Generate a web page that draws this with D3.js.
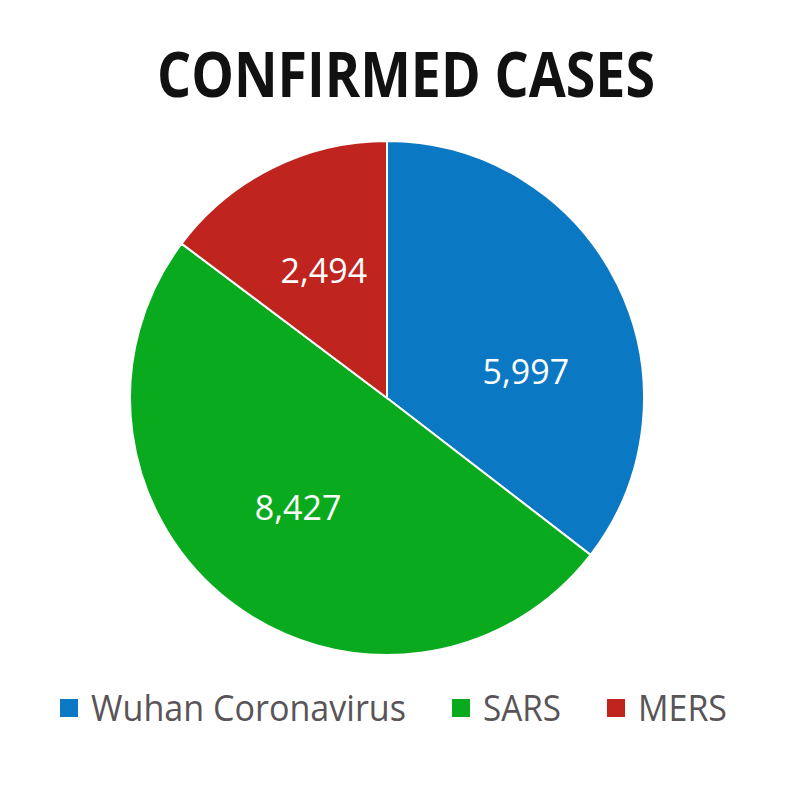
<!DOCTYPE html>
<html>
<head>
<meta charset="utf-8">
<script src="https://cdn.jsdelivr.net/npm/d3@7"></script>
<style>
  body { margin: 0; background: #fff; }
  text { font-family: "Open Sans", sans-serif; }
</style>
</head>
<body>
<div id="chart"></div>
<script>
// data
var categories = ["Wuhan Coronavirus", "SARS", "MERS"];
var cases = [5997, 8427, 2494];
var colors = ["#0a78c2", "#0aaa1e", "#c0241f"];

var width = 800, height = 800;
var cx = 387, cy = 398, radius = 257;

var svg = d3.select("#chart")
  .append("svg")
    .attr("width", width)
    .attr("height", height);

// title
svg.append("text")
  .attr("x", 406)
  .attr("y", 97)
  .attr("text-anchor", "middle")
  .attr("textLength", 498)
  .attr("lengthAdjust", "spacingAndGlyphs")
  .style("font-size", "62px")
  .style("font-weight", "bold")
  .style("fill", "#111")
  .text("CONFIRMED CASES");

var data = categories.map(function(c, i) { return {name: c, value: cases[i], color: colors[i]}; });

var pie = d3.pie()
  .sort(null)
  .value(function(d) { return d.value; });

var arc = d3.arc().innerRadius(0).outerRadius(radius);
var labelArc = d3.arc().innerRadius(0).outerRadius(radius * 1.1);

var g = svg.append("g")
  .attr("transform", "translate(" + cx + "," + cy + ")");

var arcs = pie(data);

g.selectAll("path")
  .data(arcs)
  .enter()
  .append("path")
    .attr("d", arc)
    .attr("fill", function(d) { return d.data.color; })
    .attr("stroke", "#fff")
    .attr("stroke-width", 2);

// excel "best fit" pushes the first label a bit lower
var nudge = [0.27, 0.03, 0];

g.selectAll(".lbl")
  .data(arcs)
  .enter()
  .append("text")
    .attr("class", "lbl")
    .attr("transform", function(d, i) {
      var a = (d.startAngle + d.endAngle) / 2 + nudge[i];
      var r = radius * 0.55;
      return "translate(" + (Math.sin(a) * r) + "," + (-Math.cos(a) * r) + ")";
    })
    .attr("text-anchor", "middle")
    .attr("dy", "0.35em")
    .style("font-size", "34px")
    .style("fill", "#fff")
    .text(function(d) { return d3.format(",")(d.value); });

// legend
var legendX = [60, 452, 607];
var legend = svg.append("g");

legend.selectAll("rect")
  .data(data)
  .enter()
  .append("rect")
    .attr("x", function(d, i) { return legendX[i]; })
    .attr("y", 699)
    .attr("width", 18)
    .attr("height", 18)
    .attr("fill", function(d) { return d.color; });

var legendW = [315, 78, 89];
legend.selectAll("text")
  .data(data)
  .enter()
  .append("text")
    .attr("x", function(d, i) { return legendX[i] + 31; })
    .attr("y", 721)
    .attr("textLength", function(d, i) { return legendW[i]; })
    .attr("lengthAdjust", "spacingAndGlyphs")
    .style("font-size", "37px")
    .style("fill", "#595457")
    .text(function(d) { return d.name; });
</script>
</body>
</html>
